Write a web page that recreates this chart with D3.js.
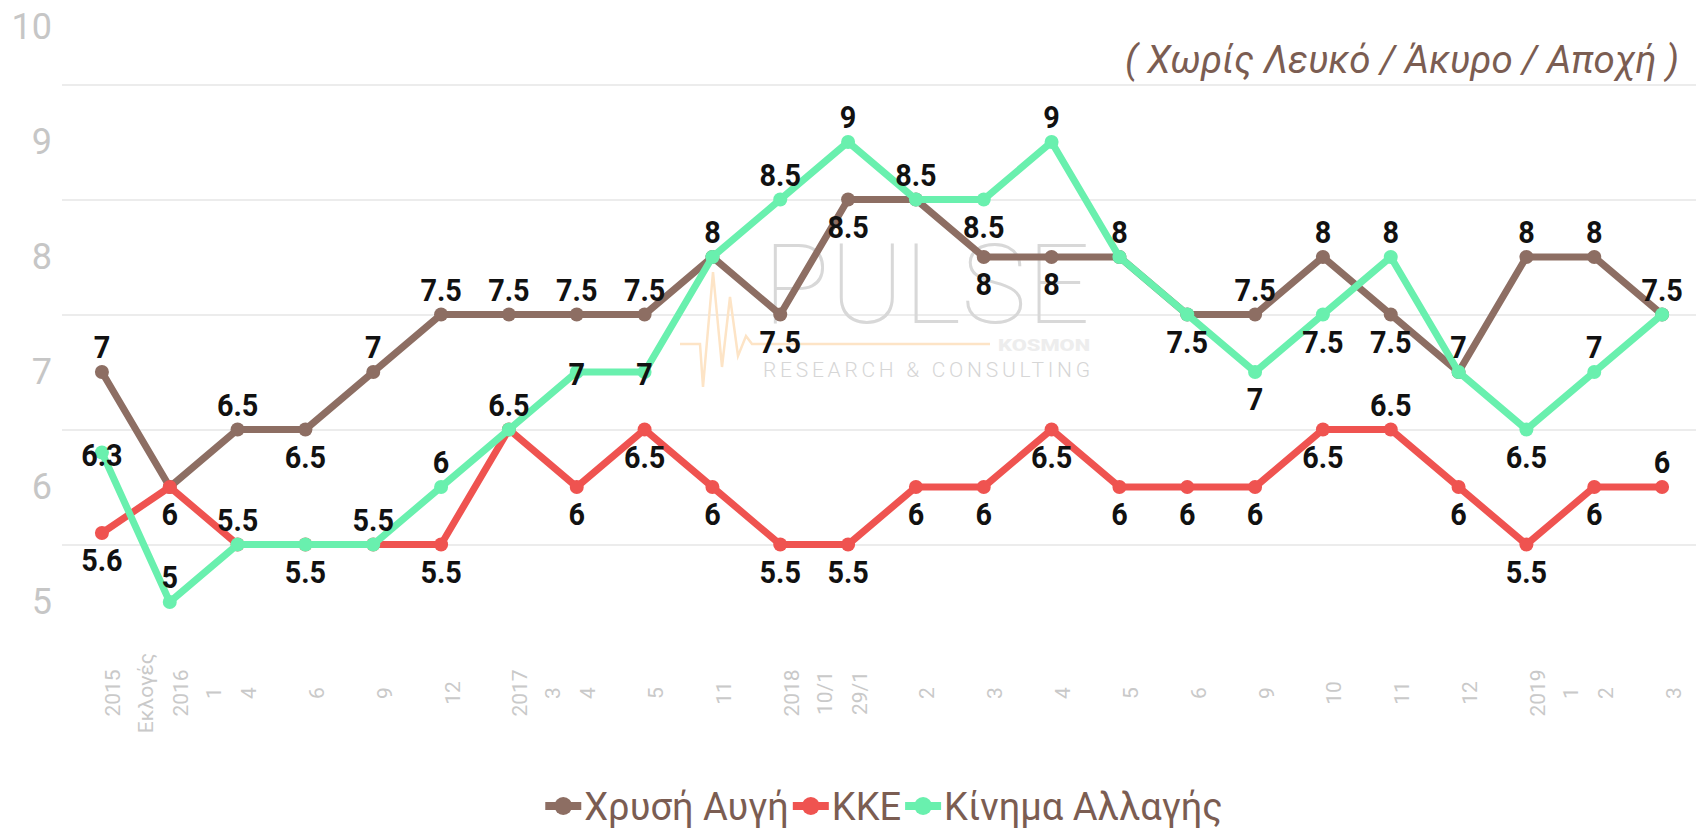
<!DOCTYPE html>
<html>
<head>
<meta charset="utf-8">
<script src="https://cdn.jsdelivr.net/npm/d3@7/dist/d3.min.js"></script>
<style>
  body { margin: 0; background: #fff; }
  svg { display: block; font-family: Roboto, "Noto Sans", sans-serif; }
</style>
</head>
<body>
<div id="chart"></div>
<script>
// Categorie (etichette su più righe)
var categories = [["2015","Εκλογές"],["2016","1"],["4"],["6"],["9"],["12"],["2017","3"],["4"],["5"],["11"],
  ["2018","10/1"],["29/1"],["2"],["3"],["4"],["5"],["6"],["9"],["10"],["11"],["12"],["2019","1"],["2"],["3"]];

var seriesNames = ["Χρυσή Αυγή", "ΚΚΕ", "Κίνημα Αλλαγής"];
var xrysiAvgi = [7,6,6.5,6.5,7,7.5,7.5,7.5,7.5,8,7.5,8.5,8.5,8,8,8,7.5,7.5,8,7.5,7,8,8,7.5];
var kke       = [5.6,6,5.5,5.5,5.5,5.5,6.5,6,6.5,6,5.5,5.5,6,6,6.5,6,6,6,6.5,6.5,6,5.5,6,6];
var kinal     = [6.3,5,5.5,5.5,5.5,6,6.5,7,7,8,8.5,9,8.5,8.5,9,8,7.5,7,7.5,8,7,6.5,7,7.5];

// posizione etichette: t = sopra, b = sotto, c = centro, "" = nessuna
var xaPos    = ["t","","t","b","t","t","t","t","t","","b","b","","b","b","","b","t","t","b","t","t","t","t"];
var kkePos   = ["b","b","","","","b","","b","b","b","b","b","b","b","b","b","b","b","b","t","b","b","b","t"];
var kinalPos = ["c","t","t","b","t","t","t","c","c","t","t","t","t","b","t","t","","b","b","t","","b","t",""];

var yTicks = [5,6,7,8,9,10];
var gridValues = [5.5,6.5,7.5,8.5,9.5];

var colors = ["#8d6e63", "#ef5350", "#69f0ae"];
var textBrown = "#7b5d52";

var W = 1696, H = 829;
var svg = d3.select("#chart").append("svg")
  .attr("width", W).attr("height", H);

var x = d3.scalePoint()
  .domain(d3.range(categories.length))
  .range([68, 1696])
  .padding(0.5);

var y = d3.scaleLinear()
  .domain([5, 10])
  .range([602, 27]);

// griglia
svg.append("g")
  .attr("transform", "translate(62,0)")
  .call(d3.axisLeft(y).tickValues(gridValues).tickSize(-(W - 62)).tickFormat(""))
  .call(function(g) {
    g.select(".domain").remove();
    g.selectAll("line").attr("stroke", "#e6e6e6").attr("stroke-width", 1.5);
  });

// asse Y
svg.append("g")
  .attr("transform", "translate(52,0)")
  .call(d3.axisLeft(y).tickValues(yTicks).tickSize(0).tickPadding(0).tickFormat(d3.format("d")))
  .call(function(g) {
    g.select(".domain").remove();
    g.selectAll("text")
      .attr("fill", "#c6c6c6")
      .style("font-size", "36px")
      .style("font-family", "Roboto");
  });

// asse X con etichette ruotate
var xAxis = svg.append("g")
  .attr("transform", "translate(0,693)")
  .call(d3.axisBottom(x).tickSize(0).tickFormat(""));
xAxis.select(".domain").remove();
xAxis.selectAll(".tick").each(function(i) {
  var t = d3.select(this).append("text")
    .attr("transform", "rotate(-90)")
    .attr("text-anchor", "middle")
    .attr("fill", "#c9c9c9")
    .style("font-size", "21px")
    .style("font-family", "Roboto");
  categories[i].forEach(function(line, k) {
    t.append("tspan").attr("x", 0).attr("y", 18 + k * 33).text(line);
  });
});

// filigrana
var wm = svg.append("g");
wm.append("path")
  .attr("d", "M680,344 L700,344 L703,387 L713,272 L722,367 L730,297 L738,356 L746,336 L752,344 L990,344")
  .attr("fill", "none").attr("stroke", "#fde4c6").attr("stroke-width", 2.5);
wm.append("text").attr("x", 763).attr("y", 323)
  .attr("textLength", 327).attr("lengthAdjust", "spacingAndGlyphs")
  .style("font-size", "112px").style("font-weight", 100).attr("fill", "#d8d8d8")
  .text("PULSE");
wm.append("text").attr("x", 998).attr("y", 351)
  .attr("textLength", 92).attr("lengthAdjust", "spacingAndGlyphs")
  .style("font-size", "17px").style("font-weight", 900).attr("fill", "#ededed")
  .text("KOSMON");
wm.append("text").attr("x", 763).attr("y", 377)
  .attr("textLength", 327).attr("lengthAdjust", "spacing")
  .style("font-size", "21px").style("font-weight", 300).attr("fill", "#d6d6d6")
  .text("RESEARCH & CONSULTING");

// linee
var series = [
  {name: seriesNames[0], values: xrysiAvgi, pos: xaPos, color: colors[0]},
  {name: seriesNames[1], values: kke, pos: kkePos, color: colors[1]},
  {name: seriesNames[2], values: kinal, pos: kinalPos, color: colors[2]}
];

var line = d3.line()
  .x(function(d, i) { return x(i); })
  .y(function(d) { return y(d); });

series.forEach(function(s) {
  var g = svg.append("g");
  g.append("path")
    .attr("d", line(s.values))
    .attr("fill", "none")
    .attr("stroke", s.color)
    .attr("stroke-width", 7)
    .attr("stroke-linejoin", "round");
  g.selectAll("circle")
    .data(s.values)
    .enter()
    .append("circle")
    .attr("cx", function(d, i) { return x(i); })
    .attr("cy", function(d) { return y(d); })
    .attr("r", 7)
    .attr("fill", s.color);
});

// etichette dati (carattere "stretto")
series.forEach(function(s) {
  var pts = s.values.map(function(v, i) { return {i: i, v: v, p: s.pos[i]}; })
    .filter(function(d) { return d.p !== ""; });
  svg.append("g")
    .selectAll("text")
    .data(pts)
    .enter()
    .append("text")
    .attr("transform", function(d) {
      var off = d.p === "t" ? -25 : (d.p === "b" ? 27 : 2);
      return "translate(" + x(d.i) + "," + (y(d.v) + off + 11) + ") scale(0.9,1)";
    })
    .attr("text-anchor", "middle")
    .attr("fill", "#111")
    .style("font-size", "32px")
    .style("font-weight", 700)
    .text(function(d) { return d.v; });
});

// titolo
svg.append("text")
  .attr("x", 1679).attr("y", 73)
  .attr("text-anchor", "end")
  .attr("textLength", 554).attr("lengthAdjust", "spacingAndGlyphs")
  .attr("fill", textBrown)
  .style("font-size", "38px")
  .style("font-style", "italic")
  .text("( Χωρίς Λευκό / Άκυρο / Αποχή )");

// legenda
var legend = svg.append("g");
var lx = 0;
series.forEach(function(s) {
  var item = legend.append("g").attr("transform", "translate(" + lx + ",0)");
  item.append("line").attr("x1", 0).attr("x2", 36).attr("y1", 0).attr("y2", 0)
    .attr("stroke", s.color).attr("stroke-width", 8);
  item.append("circle").attr("cx", 18).attr("cy", 0).attr("r", 9).attr("fill", s.color);
  var t = item.append("text").attr("x", 39).attr("y", 14)
    .attr("fill", textBrown)
    .style("font-size", "38px")
    .text(s.name);
  lx += 39 + t.node().getComputedTextLength() + 4;
});
legend.attr("transform", "translate(" + (886 - lx / 2) + ",806)");
</script>
</body>
</html>
